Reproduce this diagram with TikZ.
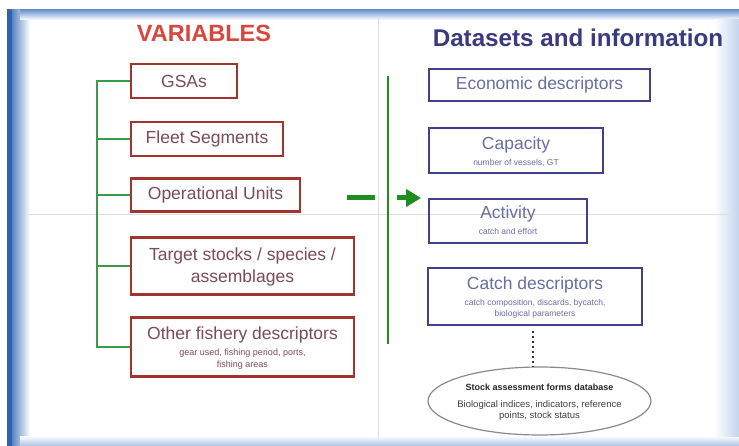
\documentclass[tikz,border=0pt]{standalone}
\usepackage{fontspec}
\setmainfont{Liberation Sans}
\usetikzlibrary{shapes.geometric,arrows.meta}

\definecolor{framedark}{HTML}{2C62B0}
\definecolor{framemid}{HTML}{6E95CF}
\definecolor{framelight}{HTML}{A9C2E3}
\definecolor{varred}{HTML}{D8463C}
\definecolor{boxred}{HTML}{A3332E}
\definecolor{txtred}{HTML}{7B4A5C}
\definecolor{navy}{HTML}{3A3A80}
\definecolor{boxblue}{HTML}{40408F}
\definecolor{txtblue}{HTML}{6C6CA2}
\definecolor{treegreen}{HTML}{3A9A45}
\definecolor{arrgreen}{HTML}{1E8E1E}
\definecolor{guide}{HTML}{DEDEDE}
\definecolor{ellgray}{HTML}{8A8A8A}

\newcommand{\fsz}[1]{\fontsize{#1}{#1}\selectfont}

\tikzset{
  varbox/.style={draw=boxred, line width=2.6pt, inner sep=0pt, rectangle},
  dsbox/.style={draw=boxblue, line width=1.8pt, inner sep=0pt, rectangle},
  redmain/.style={text=txtred, font=\fsz{17.5}, inner sep=0pt, align=center},
  redsub/.style={text=txtred, font=\fsz{9}, inner sep=0pt, align=center},
  bluemain/.style={text=txtblue, font=\fsz{17.5}, inner sep=0pt, align=center},
  bluesub/.style={text=txtblue, font=\fsz{8.5}, inner sep=0pt, align=center},
  ellsub/.style={text=black!75, font=\fsz{9.5}, inner sep=0pt, align=center},
  tree/.style={draw=treegreen, line width=2pt},
  dotline/.style={draw=black!80, line width=2.2pt, dash pattern=on 2pt off 3pt},
}

\begin{document}
\begin{tikzpicture}[x=1pt, y=-1pt]
\useasboundingbox (0,0) rectangle (739,446);
\fill[white] (0,0) rectangle (739,446);

% slide frame: shaded blue borders
\shade[left color=framedark, right color=white] (7,10) rectangle (30,446);
\shade[top color=framemid, bottom color=white] (20,10) rectangle (739,20);
\shade[top color=white, bottom color=framelight] (20,436) rectangle (739,446);
\shade[left color=white, right color=framelight!70] (714,20) rectangle (739,436);
\fill[framedark] (7,10) rectangle (12,446);

% faint guide lines
\draw[guide, line width=1pt] (378,17) -- (378,440);
\draw[guide, line width=1pt] (28,215) -- (735,215);

% headings
\node[text=varred, font=\bfseries\fsz{23.5}, inner sep=0pt] (hvar) at (204,33) {VARIABLES};
\node[text=navy, font=\bfseries\fsz{24.2}, inner sep=0pt] (hdata) at (578,38) {Datasets and information};

% variables column
\node[varbox, minimum width=106pt, minimum height=34pt] (gsa) at (184,81) {};
\node[redmain] (gsat) at (gsa.center) {GSAs};
\node[varbox, minimum width=152pt, minimum height=34pt] (fleet) at (207,139) {};
\node[redmain] (fleett) at (fleet.center) {Fleet Segments};
\node[varbox, minimum width=169pt, minimum height=33pt] (opu) at (215.5,195) {};
\node[redmain] (oput) at (opu.center) {Operational Units};
\node[varbox, minimum width=223pt, minimum height=57pt] (tgt) at (242.5,266) {};
\node[redmain] (tgt1) at (242.5,256) {Target stocks / species /};
\node[redmain] (tgt2) at (242.5,278) {assemblages};
\node[varbox, minimum width=223pt, minimum height=59pt] (oth) at (242.5,347) {};
\node[redmain] (oth1) at (242.5,335) {Other fishery descriptors};
\node[redsub] (oth2) at (242.5,353) {gear used, fishing period, ports,};
\node[redsub] (oth3) at (242.5,365) {fishing areas};

% green tree linking the variables
\coordinate (trunktop) at (97,80);
\coordinate (trunkbot) at (97,348);
\draw[tree] (trunktop) -- (trunkbot);
\foreach \b in {gsa,fleet,opu,tgt,oth}
  \draw[tree] (\b.west) -- (\b.west -| trunktop);

% datasets column
\node[dsbox, minimum width=221pt, minimum height=32pt] (eco) at (539.5,85) {};
\node[bluemain] (ecot) at (eco.center) {Economic descriptors};
\node[dsbox, minimum width=174pt, minimum height=45pt] (cap) at (516,150.5) {};
\node[bluemain] (cap1) at (516,145) {Capacity};
\node[bluesub] (cap2) at (516,163) {number of vessels, GT};
\node[dsbox, minimum width=158pt, minimum height=44pt] (act) at (508,221) {};
\node[bluemain] (act1) at (508,214) {Activity};
\node[bluesub] (act2) at (508,231) {catch and effort};
\node[dsbox, minimum width=214pt, minimum height=57pt] (cat) at (535,296.5) {};
\node[bluemain] (cat1) at (535,285) {Catch descriptors};
\node[bluesub] (cat2) at (535,303) {catch composition, discards, bycatch,};
\node[bluesub] (cat3) at (535,314) {biological parameters};

% stock assessment database
\node[ellipse, draw=ellgray, line width=1.2pt, minimum width=223pt, minimum height=68pt, inner sep=0pt] (sa) at (539.5,401) {};
\node[text=black!85, font=\bfseries\fsz{9}, inner sep=0pt] (sa1) at (539.5,387) {Stock assessment forms database};
\node[ellsub] (sa2) at (539.5,405) {Biological indices, indicators, reference};
\node[ellsub] (sa3) at (539.5,416) {points, stock status};
\draw[dotline, shorten <=5pt] ([xshift=-2pt]cat.south) -- ([xshift=-6.5pt]sa.north);

% green bar and arrow between the two columns
\coordinate (bartop) at (388,76);
\coordinate (barbot) at (388,344);
\draw[draw=arrgreen, line width=2.4pt] (bartop) -- (barbot);
\coordinate (dashL) at (347,198);
\coordinate (dashR) at (375,198);
\draw[draw=arrgreen, line width=5pt] (dashL) -- (dashR);
\coordinate (arrS) at (397,198);
\draw[draw=arrgreen, fill=arrgreen, line width=5pt, shorten >=7pt,
      -{Triangle[length=15pt,width=17pt]}] (arrS) -- (act.west |- arrS);
\end{tikzpicture}
\end{document}
